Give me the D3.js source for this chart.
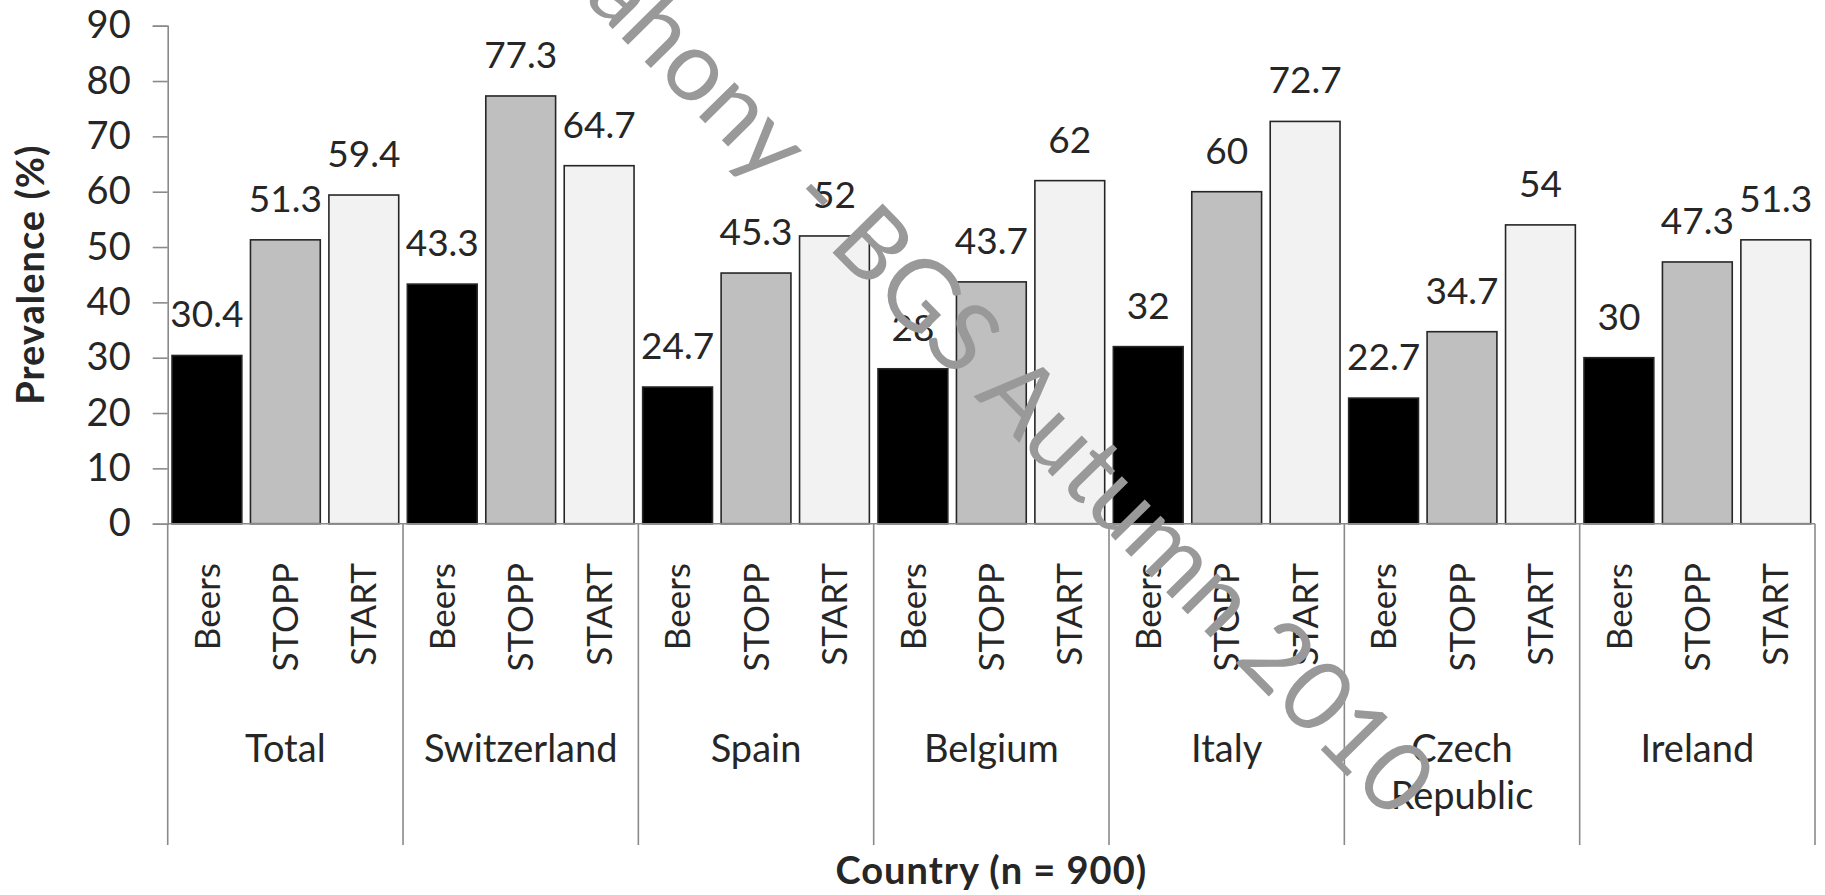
<!DOCTYPE html>
<html>
<head>
<meta charset="utf-8">
<script src="https://cdn.jsdelivr.net/npm/d3@7"></script>
<style>
  html, body { margin: 0; padding: 0; background: #ffffff; }
  svg { display: block; }
  text { font-family: Lato, "Open Sans", sans-serif; fill: #262626; }
</style>
</head>
<body>
<svg id="chart" width="1825" height="895"></svg>
<script>
// Prevalence of potentially inappropriate prescribing by criteria set and country
const countries = ["Total", "Switzerland", "Spain", "Belgium", "Italy", "Czech Republic", "Ireland"];
const criteria = ["Beers", "STOPP", "START"];
const beersValues = [30.4, 43.3, 24.7, 28, 32, 22.7, 30];
const stoppValues = [51.3, 77.3, 45.3, 43.7, 60, 34.7, 47.3];
const startValues = [59.4, 64.7, 52, 62, 72.7, 54, 51.3];
const yTicks = [0, 10, 20, 30, 40, 50, 60, 70, 80, 90];

const seriesByCriterion = { Beers: beersValues, STOPP: stoppValues, START: startValues };
const fills = { Beers: "#000000", STOPP: "#bfbfbf", START: "#f2f2f2" };

const rows = [];
countries.forEach((c, i) => {
  criteria.forEach(k => rows.push({ country: c, criterion: k, value: seriesByCriterion[k][i] }));
});

const svg = d3.select("#chart");
const plot = { left: 167.7, right: 1815, top: 25.7, bottom: 523.7, catBottom: 845 };

const y = d3.scaleLinear().domain([0, 90]).range([plot.bottom, plot.top]);
const xGroup = d3.scaleBand().domain(countries).range([plot.left, plot.right]).padding(0);
const xSub = d3.scaleBand().domain(criteria).range([0, xGroup.bandwidth()])
  .paddingInner(0.11).paddingOuter(0.055);

const axisColor = "#8a8a8a";

// Bars
svg.append("g").selectAll("rect")
  .data(rows)
  .join("rect")
  .attr("x", d => xGroup(d.country) + xSub(d.criterion))
  .attr("y", d => y(d.value))
  .attr("width", xSub.bandwidth())
  .attr("height", d => y(0) - y(d.value))
  .attr("fill", d => fills[d.criterion])
  .attr("stroke", "#262626")
  .attr("stroke-width", 1.6);

// Y axis
const yAxis = svg.append("g")
  .attr("transform", `translate(${plot.left},0)`)
  .call(d3.axisLeft(y).tickValues(yTicks).tickSize(15).tickPadding(22).tickFormat(d3.format("d")));
yAxis.select(".domain").attr("stroke", axisColor).attr("stroke-width", 1.6);
yAxis.selectAll(".tick line").attr("stroke", axisColor).attr("stroke-width", 1.6);
yAxis.selectAll(".tick text")
  .style("font-family", "Lato, sans-serif")
  .style("font-size", "38px")
  .attr("fill", "#262626");

// Category axis: baseline and group separators
svg.append("line")
  .attr("x1", plot.left).attr("x2", plot.right)
  .attr("y1", y(0)).attr("y2", y(0))
  .attr("stroke", axisColor).attr("stroke-width", 1.6);

const boundaries = countries.map(c => xGroup(c)).concat([plot.right]);
svg.append("g").selectAll("line")
  .data(boundaries)
  .join("line")
  .attr("x1", d => d).attr("x2", d => d)
  .attr("y1", y(0)).attr("y2", plot.catBottom)
  .attr("stroke", axisColor).attr("stroke-width", 1.6);

// Criterion labels under each bar (rotated)
svg.append("g").selectAll("text")
  .data(rows)
  .join("text")
  .attr("transform", d => {
    const cx = xGroup(d.country) + xSub(d.criterion) + xSub.bandwidth() / 2;
    return `translate(${cx},563) rotate(-90)`;
  })
  .attr("text-anchor", "end")
  .attr("dy", "0.36em")
  .style("font-size", "35px")
  .text(d => d.criterion);

// Country labels (wrapped onto two lines where needed)
const countryLabels = svg.append("g").selectAll("text")
  .data(countries)
  .join("text")
  .attr("x", d => xGroup(d) + xGroup.bandwidth() / 2)
  .attr("y", 762)
  .attr("text-anchor", "middle")
  .style("font-size", "38px");
countryLabels.each(function (d) {
  const words = d.split(" ");
  const t = d3.select(this);
  const cx = xGroup(d) + xGroup.bandwidth() / 2;
  words.forEach((w, i) => {
    t.append("tspan").attr("x", cx).attr("dy", i === 0 ? 0 : 47).text(w);
  });
});

// Value labels above bars
svg.append("g").selectAll("text")
  .data(rows)
  .join("text")
  .attr("x", d => xGroup(d.country) + xSub(d.criterion) + xSub.bandwidth() / 2)
  .attr("y", d => y(d.value) - 28)
  .attr("text-anchor", "middle")
  .style("font-size", "37px")
  .text(d => String(d.value));

// Axis titles
svg.append("text")
  .attr("transform", `translate(44,${(plot.top + plot.bottom) / 2}) rotate(-90)`)
  .attr("text-anchor", "middle")
  .style("font-size", "38px")
  .style("font-weight", "bold")
  .style("letter-spacing", "1px")
  .attr("fill", "#000")
  .text("Prevalence (%)");

svg.append("text")
  .attr("x", (plot.left + plot.right) / 2)
  .attr("y", 884)
  .attr("text-anchor", "middle")
  .style("font-size", "38px")
  .style("font-weight", "bold")
  .style("letter-spacing", "1px")
  .attr("fill", "#000")
  .text("Country (n = 900)");

// Presentation watermark across the chart
svg.append("text")
  .attr("transform", "translate(1392,822) rotate(45.5)")
  .attr("text-anchor", "end")
  .style("font-size", "98px")
  .style("fill", "#999999")
  .text("O'Mahony - BGS Autumn 2010");
</script>
</body>
</html>
